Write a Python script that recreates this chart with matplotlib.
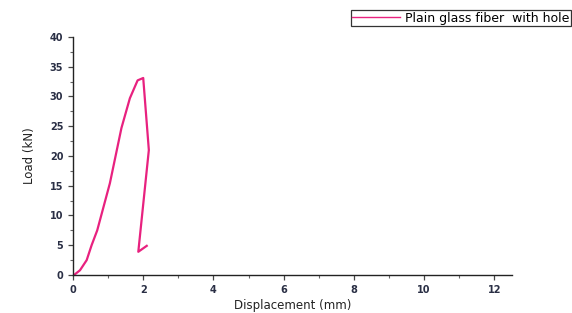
import matplotlib
matplotlib.use("Agg")
import matplotlib.pyplot as plt
from matplotlib.ticker import MultipleLocator

# values
disp = [0.03, 0.2, 0.39, 0.53, 0.69, 1.05, 1.38, 1.62, 1.84, 2.0, 2.16, 1.86, 2.1]
load = [0.0, 0.8, 2.5, 5.0, 7.5, 15.4, 24.7, 29.7, 32.7, 33.1, 21.0, 3.9, 4.9]
series_label = "Plain glass fiber  with hole"

LINE_COLOR = "#e8217f"
TICK_COLOR = "#2a2f45"

fig = plt.figure(figsize=(5.72, 3.13), dpi=100)
ax = fig.add_axes([0.1276, 0.1214, 0.7674, 0.7606])

ax.plot(disp, load, color=LINE_COLOR, linewidth=1.6, label=series_label)

ax.set_xlim(0, 12.5)
ax.set_ylim(0, 40)
ax.xaxis.set_major_locator(MultipleLocator(2))
ax.xaxis.set_minor_locator(MultipleLocator(1))
ax.yaxis.set_major_locator(MultipleLocator(5))
ax.yaxis.set_minor_locator(MultipleLocator(2.5))
ax.spines[["top", "right"]].set_visible(False)
for s in ["left", "bottom"]:
    ax.spines[s].set_color("#222222")
    ax.spines[s].set_linewidth(1.0)

ax.tick_params(which="major", direction="out", length=3.5, width=0.9,
               labelsize=7, labelcolor=TICK_COLOR, color="#444444")
ax.tick_params(which="minor", direction="out", length=2, width=0.8, color="#666666")
for lab in ax.get_xticklabels() + ax.get_yticklabels():
    lab.set_fontweight("bold")

ax.set_xlabel("Displacement (mm)", fontsize=8.5, color="#222222", labelpad=3)
ax.set_ylabel("Load (kN)", fontsize=8.5, color="#222222", labelpad=10,
              family=["Liberation Sans Narrow", "DejaVu Sans"])

leg = fig.legend(loc="upper right", bbox_to_anchor=(0.998, 0.968), fontsize=9,
                 frameon=True, fancybox=False, handlelength=3.8,
                 borderpad=0.12, handletextpad=0.4, borderaxespad=0)
leg.get_frame().set_edgecolor("#000000")
leg.get_frame().set_linewidth(0.9)
leg.get_lines()[0].set_linewidth(1.0)

fig.savefig("out.png", dpi=100)
